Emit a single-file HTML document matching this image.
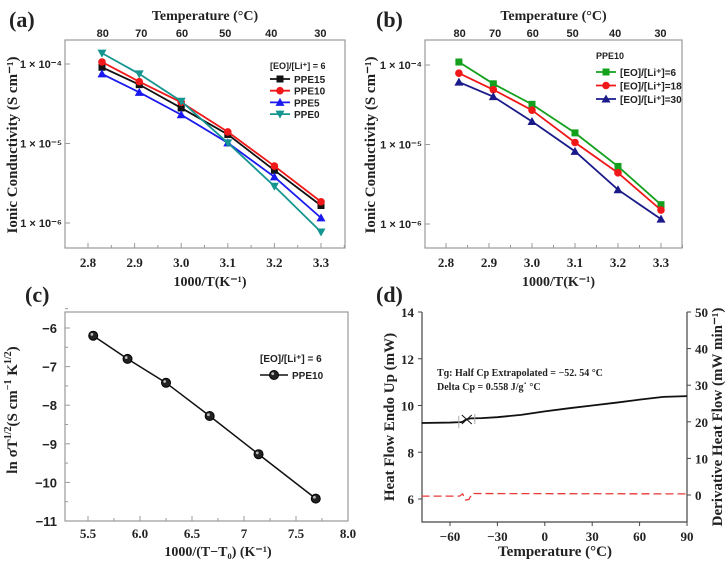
<!DOCTYPE html>
<html><head><meta charset="utf-8"><style>
body{margin:0;background:#fff}
svg{display:block}
.t{font-family:"Liberation Serif",serif;font-weight:bold;fill:#222}
.s{font-family:"Liberation Sans",sans-serif;font-weight:bold;fill:#222}
</style></head><body>
<svg id="fig" width="728" height="563" viewBox="0 0 728 563" xmlns="http://www.w3.org/2000/svg"></svg>
<script>
// ---- data ----
const xA = [2.83, 2.91, 3.0, 3.1, 3.2, 3.3];
const ppe15 = [9.1e-5, 5.5e-5, 2.8e-5, 1.3e-5, 4.6e-6, 1.66e-6];
const ppe10 = [1.06e-4, 6.0e-5, 3.3e-5, 1.4e-5, 5.2e-6, 1.85e-6];
const ppe5 = [7.5e-5, 4.4e-5, 2.3e-5, 1.02e-5, 3.8e-6, 1.16e-6];
const ppe0 = [1.37e-4, 7.5e-5, 3.4e-5, 1.02e-5, 2.9e-6, 7.7e-7];
const eo6 = [1.09e-4, 5.8e-5, 3.2e-5, 1.4e-5, 5.3e-6, 1.75e-6];
const eo18 = [7.9e-5, 4.9e-5, 2.7e-5, 1.06e-5, 4.4e-6, 1.5e-6];
const eo30 = [6.1e-5, 4.0e-5, 1.95e-5, 8.2e-6, 2.7e-6, 1.15e-6];
const xTicksA = [2.8, 2.9, 3.0, 3.1, 3.2, 3.3];
const topTemps = [80, 70, 60, 50, 40, 30];
const xC = [5.55, 5.88, 6.25, 6.67, 7.14, 7.69];
const yC = [-6.2, -6.8, -7.42, -8.28, -9.27, -10.42];
const xTicksC = [5.5, 6.0, 6.5, 7, 7.5, 8.0];
const xTickLabelsC = ['5.5', '6.0', '6.5', '7', '7.5', '8.0'];
const yTicksC = [-6, -7, -8, -9, -10, -11];
const dscT = [-78, -60, -53, -52, -50, -47, -40, -30, -15, 0, 15, 30, 45, 60, 75, 90];
const dscHF = [9.25, 9.27, 9.29, 9.3, 9.4, 9.45, 9.46, 9.5, 9.6, 9.75, 9.88, 10.0, 10.12, 10.25, 10.37, 10.4];
const derT = [-78, -54, -52, -50, -48, -46, -44, 90];
const derV = [-0.3, -0.3, 0.3, -1.4, -1.2, 0.4, 0.4, 0.3];
const xTicksD = [-60, -30, 0, 30, 60, 90];
const yTicksD = [6, 8, 10, 12, 14];
const y2TicksD = [0, 10, 20, 30, 40, 50];

const svg = document.getElementById('fig');
const NS = 'http://www.w3.org/2000/svg';
function el(tag, attrs, parent, text){
  const e = document.createElementNS(NS, tag);
  for (const k in attrs) e.setAttribute(k, attrs[k]);
  if (text !== undefined) e.textContent = text;
  (parent || svg).appendChild(e);
  return e;
}
function lin(d0, d1, r0, r1){ return v => r0 + (v - d0) * (r1 - r0) / (d1 - d0); }
function marker(g, type, x, y, c){
  let m;
  if (type === 'sq') m = el('rect', {x:x-3.5, y:y-3.5, width:7, height:7, fill:c}, g);
  else if (type === 'ci') m = el('circle', {cx:x, cy:y, r:3.8, fill:c}, g);
  else if (type === 'tu') m = el('polygon', {points:`${x},${y-4.5} ${x-4.5},${y+3.5} ${x+4.5},${y+3.5}`, fill:c}, g);
  else if (type === 'td') m = el('polygon', {points:`${x},${y+4.5} ${x-4.5},${y-3.5} ${x+4.5},${y-3.5}`, fill:c}, g);
  else if (type === 'ball') { m = el('circle', {cx:x, cy:y, r:4.5, fill:'#222', stroke:'#000'}, g); el('circle', {cx:x-1.3, cy:y-1.3, r:1.4, fill:'#bbb'}, g); }
  
  
}
function series(g, xs, ys, sx, sy, c, type, name, w){
  const pts = xs.map((v,i) => sx(v) + ',' + sy(ys[i])).join(' ');
  const pl = el('polyline', {points:pts, fill:'none', stroke:c, 'stroke-width':w||1.8}, g);
  
  
  if (type) xs.forEach((v,i) => marker(g, type, sx(v), sy(ys[i]), c));
}
function box(g, x0, y0, x1, y1, name){
  const r = el('rect', {x:x0, y:y0, width:x1-x0, height:y1-y0, fill:'none', stroke:'#999', 'stroke-width':1.2}, g);
  
  
}

// ---- log panels (a) and (b) ----
function logPanel(opts){
  const g = el('g', {});
  
  
  const {x0, x1, y0, y1, px28, px33} = opts;
  const sx = lin(2.8, 3.3, px28, px33);
  const yd = 79.5;
  const sy = v => opts.py4 - (Math.log10(v) + 4) * yd;
  box(g, x0, y0, x1, y1, 'plot-frame');
  el('text', {x:opts.lx, y:27, class:'t', 'font-size':22}, g, opts.label);
  el('text', {x:(x0+x1)/2, y:20, class:'t', 'font-size':14, 'text-anchor':'middle'}, g, 'Temperature (\u00B0C)');
  topTemps.forEach((t,i) => {
    el('text', {x:sx(1000/(t+273.15)), y:37, class:'s', 'font-size':11, 'text-anchor':'middle'}, g, t);
  });
  xTicksA.forEach(v => {
    el('line', {x1:sx(v), x2:sx(v), y1:y1, y2:y1-5, stroke:'#999'}, g);
    el('line', {x1:sx(v+0.05), x2:sx(v+0.05), y1:y1, y2:y1-3, stroke:'#999'}, g);
    el('text', {x:sx(v), y:y1+19, class:'t', 'font-size':13, 'text-anchor':'middle'}, g, v.toFixed(1));
  });
  el('text', {x:(x0+x1)/2+5, y:286, class:'t', 'font-size':14, 'text-anchor':'middle'}, g, '1000/T(K\u207B\u00B9)');
  [-4,-5,-6].forEach(p => {
    const y = sy(Math.pow(10,p));
    el('line', {x1:x0, x2:x0+5, y1:y, y2:y, stroke:'#999'}, g);
    el('text', {x:x0-3, y:y+4, class:'s', 'font-size':11, 'text-anchor':'end', 'font-weight':'normal'}, g, '1 \u00D7 10' + ({'-4':'\u207B\u2074','-5':'\u207B\u2075','-6':'\u207B\u2076'})[p]);
  });
  const yt = el('text', {x:0, y:0, class:'t', 'font-size':15, 'text-anchor':'middle', transform:`translate(${opts.ytx},145) rotate(-90)`}, g, 'Ionic Conductivity (S cm\u207B\u00B9)');
  
  
  opts.series.forEach(s => series(g, xA, s.d, sx, sy, s.c, s.m, s.n));
  // legend
  const L = opts.legend;
  el('text', {x:L.x, y:L.y, class:'s', 'font-size':9}, g, L.title);
  opts.series.forEach((s,i) => {
    const yy = L.y + L.first + i*L.step;
    const lg = el('g', {}, g);
    
    
    el('line', {x1:L.x, x2:L.x+20, y1:yy, y2:yy, stroke:s.c, 'stroke-width':1.8}, lg);
    marker(lg, s.m, L.x+10, yy, s.c);
    el('text', {x:L.x+24, y:yy+4, class:'s', 'font-size':10}, lg, s.n);
  });
}
logPanel({name:'panel-a', label:'(a)', lx:9, x0:65, x1:345, y0:40, y1:248, px28:88, px33:321, py4:64, ytx:17,
  series:[{d:ppe15,c:'#111',m:'sq',n:'PPE15'},{d:ppe10,c:'#f01818',m:'ci',n:'PPE10'},{d:ppe5,c:'#1a1af0',m:'tu',n:'PPE5'},{d:ppe0,c:'#159590',m:'td',n:'PPE0'}],
  legend:{x:270, y:69, title:'[EO]/[Li\u207A] = 6', first:10, step:11.7}});
logPanel({name:'panel-b', label:'(b)', lx:376, x0:425, x1:682, y0:40, y1:248, px28:446, px33:661, py4:65, ytx:375,
  series:[{d:eo6,c:'#13a01c',m:'sq',n:'[EO]/[Li\u207A]=6'},{d:eo18,c:'#f01818',m:'ci',n:'[EO]/[Li\u207A]=18'},{d:eo30,c:'#1a1a8a',m:'tu',n:'[EO]/[Li\u207A]=30'}],
  legend:{x:596, y:59, title:'PPE10', first:13, step:13.5}});

// ---- panel (c) ----
(function(){
  const g = el('g', {});
  
  
  const x0=65, x1=348, y0=312, y1=521;
  const sx = lin(5.5, 8.0, 88, 348), sy = lin(-6, -11, 328, 521);
  box(g, x0, y0, x1, y1, 'plot-frame');
  el('text', {x:25, y:302, class:'t', 'font-size':22}, g, '(c)');
  xTicksC.forEach((v,i) => {
    el('line', {x1:sx(v), x2:sx(v), y1:y1, y2:y1-5, stroke:'#999'}, g);
    if (v < 8) el('line', {x1:sx(v+0.25), x2:sx(v+0.25), y1:y1, y2:y1-3, stroke:'#999'}, g);
    el('text', {x:sx(v), y:y1+17, class:'t', 'font-size':13, 'text-anchor':'middle'}, g, xTickLabelsC[i]);
  });
  yTicksC.forEach(v => {
    el('line', {x1:x0, x2:x0+5, y1:sy(v), y2:sy(v), stroke:'#999'}, g);
    el('line', {x1:x0, x2:x0+3, y1:sy(v+0.5), y2:sy(v+0.5), stroke:'#999'}, g);
    el('text', {x:x0-8, y:sy(v)+5, class:'s', 'font-size':13, 'text-anchor':'end', 'font-weight':'normal'}, g, '\u2212' + Math.abs(v));
  });
  el('text', {x:218, y:556, class:'t', 'font-size':14, 'text-anchor':'middle'}, g, '1000/(T\u2212T\u2080) (K\u207B\u00B9)');
  const yt = el('text', {x:0, y:0, class:'t', 'font-size':15, 'text-anchor':'middle', transform:'translate(17,410) rotate(-90)'}, g);
  
  
  el('tspan', {}, yt, 'ln \u03C3T');
  el('tspan', {'font-size':10, dy:-6}, yt, '1/2');
  el('tspan', {dy:6}, yt, '(S cm');
  el('tspan', {'font-size':10, dy:-6}, yt, '\u22121');
  el('tspan', {dy:6}, yt, ' K');
  el('tspan', {'font-size':10, dy:-6}, yt, '1/2');
  el('tspan', {dy:6}, yt, ')');
  series(g, xC, yC, sx, sy, '#111', 'ball', 'ppe10', 1.5);
  el('text', {x:260, y:362, class:'s', 'font-size':10}, g, '[EO]/[Li\u207A] = 6');
  el('line', {x1:260, x2:288, y1:375, y2:375, stroke:'#111', 'stroke-width':1.5}, g);
  marker(g, 'ball', 274, 375, '#111');
  el('text', {x:292, y:379, class:'s', 'font-size':10}, g, 'PPE10');
})();

// ---- panel (d) ----
(function(){
  const g = el('g', {});
  
  
  const x0=422, x1=687, y0=312, y1=522;
  const sx = lin(-60, 90, 450, 687), sy = lin(14, 6, 312, 499), sy2 = lin(50, 0, 312, 495);
  el('path', {d:`M${x0},${y0} V${y1} H${x1} V${y0}`, fill:'none', stroke:'#444', 'stroke-width':1.2}, g);
  el('text', {x:376, y:302, class:'t', 'font-size':22}, g, '(d)');
  xTicksD.forEach(v => {
    el('line', {x1:sx(v), x2:sx(v), y1:y1, y2:y1+4, stroke:'#444'}, g);
    el('text', {x:sx(v), y:y1+19, class:'t', 'font-size':13, 'text-anchor':'middle'}, g, v < 0 ? '\u2212' + Math.abs(v) : v);
  });
  yTicksD.forEach(v => {
    el('line', {x1:x0-4, x2:x0, y1:sy(v), y2:sy(v), stroke:'#444'}, g);
    el('text', {x:x0-8, y:sy(v)+5, class:'t', 'font-size':13, 'text-anchor':'end'}, g, v);
  });
  y2TicksD.forEach(v => {
    el('line', {x1:x1, x2:x1+4, y1:sy2(v), y2:sy2(v), stroke:'#444'}, g);
    el('text', {x:x1+8, y:sy2(v)+5, class:'t', 'font-size':13}, g, v);
  });
  el('text', {x:555, y:556, class:'t', 'font-size':15, 'text-anchor':'middle'}, g, 'Temperature (\u00B0C)');
  el('text', {x:0, y:0, class:'t', 'font-size':15, 'text-anchor':'middle', transform:'translate(394,417) rotate(-90)'}, g, 'Heat Flow Endo Up (mW)');
  el('text', {x:0, y:0, class:'t', 'font-size':15, 'text-anchor':'middle', transform:'translate(722,417) rotate(-90)'}, g, 'Derivative Heat Flow (mW min\u207B\u00B9)');
  el('text', {x:437, y:376, class:'t', 'font-size':10}, g, 'T\u0261: Half Cp Extrapolated = \u221252. 54 \u00B0C');
  el('text', {x:437, y:390, class:'t', 'font-size':10}, g, 'Delta Cp = 0.558 J/g\u02D9 \u00B0C');
  series(g, dscT, dscHF, sx, sy, '#111', null, 'heat-flow', 1.8);
  const dl = el('polyline', {points:derT.map((v,i)=>sx(v)+','+sy2(derV[i])).join(' '), fill:'none', stroke:'#e83838', 'stroke-width':1.3, 'stroke-dasharray':'8,4'}, g);
  
  
  // Tg marker
  const cx = sx(-50), cy = sy(9.38);
  el('line', {x1:cx-4, x2:cx+6, y1:cy+4, y2:cy-5, stroke:'#111'}, g);
  el('line', {x1:cx-4, x2:cx+6, y1:cy-5, y2:cy+4, stroke:'#111'}, g);
  el('line', {x1:cx-7, x2:cx-7, y1:cy-4, y2:cy+8, stroke:'#aaa'}, g);
  el('line', {x1:cx+9, x2:cx+9, y1:cy-6, y2:cy+4, stroke:'#aaa'}, g);
})();
</script>
</body></html>
